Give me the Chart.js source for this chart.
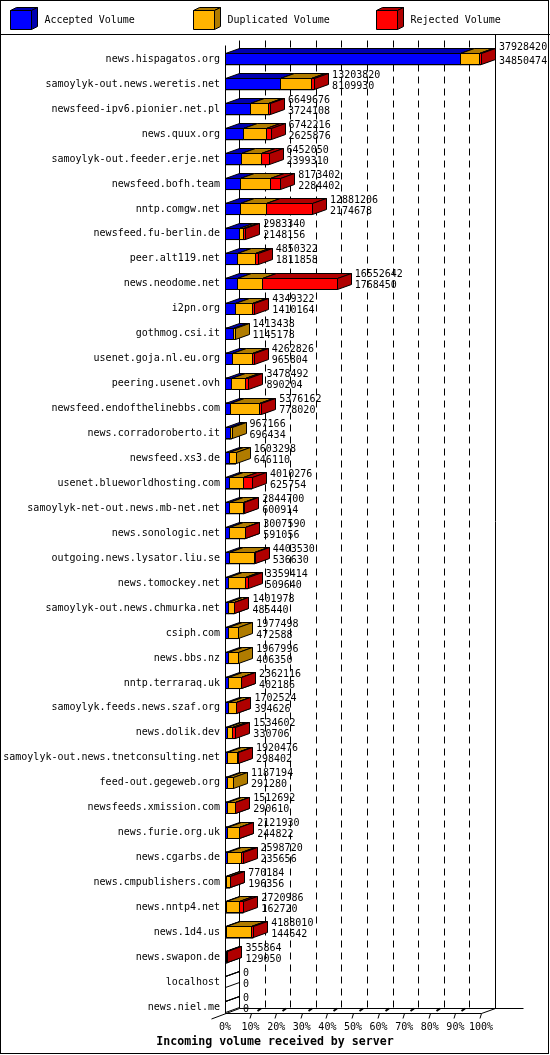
<!DOCTYPE html>
<html>
<head>
<meta charset="utf-8">
<title>Incoming volume received by server</title>
<script src="https://cdn.jsdelivr.net/npm/chart.js@4.4.1/dist/chart.umd.min.js"></script>
<style>
    body { margin: 0; background: #ffffff; }
    canvas { display: block; }
</style>
</head>
<body>
<canvas id="volumeChart" width="550" height="1055"></canvas>
<script>

//Servers
const servers = [
    "news.hispagatos.org",
    "samoylyk-out.news.weretis.net",
    "newsfeed-ipv6.pionier.net.pl",
    "news.quux.org",
    "samoylyk-out.feeder.erje.net",
    "newsfeed.bofh.team",
    "nntp.comgw.net",
    "newsfeed.fu-berlin.de",
    "peer.alt119.net",
    "news.neodome.net",
    "i2pn.org",
    "gothmog.csi.it",
    "usenet.goja.nl.eu.org",
    "peering.usenet.ovh",
    "newsfeed.endofthelinebbs.com",
    "news.corradoroberto.it",
    "newsfeed.xs3.de",
    "usenet.blueworldhosting.com",
    "samoylyk-net-out.news.mb-net.net",
    "news.sonologic.net",
    "outgoing.news.lysator.liu.se",
    "news.tomockey.net",
    "samoylyk-out.news.chmurka.net",
    "csiph.com",
    "news.bbs.nz",
    "nntp.terraraq.uk",
    "samoylyk.feeds.news.szaf.org",
    "news.dolik.dev",
    "samoylyk-out.news.tnetconsulting.net",
    "feed-out.gegeweb.org",
    "newsfeeds.xmission.com",
    "news.furie.org.uk",
    "news.cgarbs.de",
    "news.cmpublishers.com",
    "news.nntp4.net",
    "news.1d4.us",
    "news.swapon.de",
    "localhost",
    "news.niel.me"
];

//Total volume (upper number)
const totalVolume = [
    37928420, 13203820, 6649676, 6742216, 6452050, 8173402, 12881206, 2983340,
    4850322, 16552642, 4349322, 1413438, 4262826, 3478492, 5376162, 967166,
    1603298, 4010276, 2844700, 3007590, 4403530, 3359414, 1401978, 1977498,
    1967996, 2362116, 1702524, 1534602, 1920476, 1187194, 1512692, 2121930,
    2598720, 770184, 2720986, 4188010, 355864, 0, 0
];

//Accepted volume (lower number)
const acceptedVolume = [
    34850474, 8109930, 3724108, 2625876, 2399310, 2284402, 2174678, 2148156,
    1811858, 1768450, 1410164, 1145178, 965804, 890204, 778020, 696434,
    646110, 625754, 600914, 591056, 536630, 509640, 485440, 472588,
    406350, 402186, 394626, 330706, 298402, 291280, 290610, 244822,
    235656, 196356, 162720, 144642, 129050, 0, 0
];

//Duplicated volume
const duplicatedVolume = [
    2718000, 4644000, 2626000, 3466000, 2983000, 4419000, 3947000, 555000,
    2688000, 3764000, 2549000, 268000, 2967000, 2118000, 4248000, 271000,
    957000, 1995000, 2124000, 2317000, 3747000, 2450000, 817000, 1505000,
    1562000, 1900000, 1208000, 754000, 1542000, 896000, 1172000, 1777000,
    2063000, 474000, 1958000, 3713000, 127000, 0, 0
];

//Rejected volume
const rejectedVolume = [
    360000, 450000, 300000, 650000, 1070000, 1470000, 6760000, 280000,
    350000, 11020000, 390000, 0, 330000, 470000, 350000, 0,
    0, 1390000, 120000, 100000, 120000, 400000, 100000, 0,
    0, 60000, 100000, 450000, 80000, 0, 50000, 100000,
    300000, 100000, 600000, 330000, 100000, 0, 0
];

//Axis
const tickPercents = [0, 10, 20, 30, 40, 50, 60, 70, 80, 90, 100];
const tickLabels = ["0%", "10%", "20%", "30%", "40%", "50%", "60%", "70%", "80%", "90%", "100%"];
const seriesLabels = ["Accepted Volume", "Duplicated Volume", "Rejected Volume"];
const chartTitle = "Incoming volume received by server";

const maxTotal = Math.max(...totalVolume);

//Colours: front face and shaded face
const frontColors = ["#0000ff", "#ffb400", "#ff0000"];
const darkColors = ["#0000b0", "#b07c00", "#b00000"];

const depthX = 14;
const depthY = 5;
const monoFont = "'DejaVu Sans Mono', 'Liberation Mono', monospace";

//Drawing helpers
function poly(ctx, pts, fill) {

    ctx.beginPath();
    ctx.moveTo(pts[0][0], pts[0][1]);

    for (let i = 1; i < pts.length; i++) {
        ctx.lineTo(pts[i][0], pts[i][1]);
    }

    ctx.closePath();

    if (fill) {
        ctx.fillStyle = fill;
        ctx.fill();
    }

    ctx.stroke();

}

function line(ctx, x0, y0, x1, y1) {

    ctx.beginPath();
    ctx.moveTo(x0, y0);
    ctx.lineTo(x1, y1);
    ctx.stroke();

}

function drawBox(ctx, x0, x1, yt, yb, dx, dy, front, dark) {

    //front
    poly(ctx, [[x0, yt], [x1, yt], [x1, yb], [x0, yb]], front);

    //top
    poly(ctx, [[x0, yt], [x0 + dx, yt - dy], [x1 + dx, yt - dy], [x1, yt]], dark);

    //side
    poly(ctx, [[x1, yt], [x1 + dx, yt - dy], [x1 + dx, yb - dy], [x1, yb]], dark);

}

//Back walls, grid and floor
const backPlane = {

    id: "backPlane",

    beforeDatasetsDraw(chart) {

        const { ctx, chartArea, scales: { x, y } } = chart;

        const left = Math.round(x.getPixelForValue(0)) + 0.5;
        const right = Math.round(x.getPixelForValue(maxTotal)) + 0.5;
        const header = Math.floor(chartArea.top - 12) + 0.5;
        const backTop = Math.round(chartArea.top - 7) + 0.5;
        const frontTop = backTop + depthY;
        const frontFloor = Math.floor(y.getPixelForValue(servers.length - 1) + 6) + 0.5;
        const backFloor = frontFloor - depthY;

        ctx.save();
        ctx.strokeStyle = "#000000";
        ctx.lineWidth = 1;

        //dashed grid on the back wall
        ctx.setLineDash([7, 5]);

        tickPercents.slice(1, -1).forEach(p => {

            const gx = Math.round(x.getPixelForValue(maxTotal * p / 100)) + depthX + 0.5;
            line(ctx, gx, backTop, gx, backFloor);

        });

        ctx.setLineDash([]);

        //walls
        line(ctx, left, frontTop, left, frontFloor);
        line(ctx, left + depthX, backTop, left + depthX, backFloor);
        line(ctx, right + depthX, header, right + depthX, backFloor);

        //floor
        line(ctx, left, frontFloor, right, frontFloor);
        line(ctx, left + depthX, backFloor, right + depthX + 28, backFloor);
        line(ctx, right, frontFloor, right + depthX, backFloor);
        line(ctx, left - 14, frontFloor + 5.5, left + depthX, backFloor);

        //floor ticks
        tickPercents.slice(1).forEach((p, i) => {

            const fx = Math.round(x.getPixelForValue(maxTotal * p / 100)) + 0.5;

            ctx.lineWidth = 1;
            line(ctx, fx - 1.5, frontFloor + 5, fx, frontFloor);

            if (i < tickPercents.length - 2) {
                ctx.lineWidth = 2;
                line(ctx, fx + 6, backFloor + 2.5, fx + 9.5, backFloor);
            }

        });

        ctx.restore();

    }

};

//3D boxes and value labels
const boxBars = {

    id: "boxBars",

    afterDatasetsDraw(chart) {

        const { ctx, scales: { x } } = chart;

        ctx.save();
        ctx.strokeStyle = "#000000";
        ctx.lineWidth = 1;

        servers.forEach((name, i) => {

            chart.data.datasets.forEach((ds, d) => {

                const el = chart.getDatasetMeta(d).data[i];
                const value = ds.data[i];

                if (!el) return;

                const empty = totalVolume[i] === 0;

                if (value === 0 && !(empty && d === 0)) return;

                const { x: end, base, y: cy } = el.getProps(["x", "base", "y"], true);

                const x0 = Math.round(base) + 0.5;
                const x1 = Math.round(end) + 0.5;
                const yt = Math.round(cy - 6) + 0.5;
                const yb = yt + 11;

                if (empty) {
                    drawBox(ctx, x0, x1, yt, yb, depthX, depthY, null, null);
                } else {
                    drawBox(ctx, x0, x1, yt, yb, depthX, depthY, frontColors[d], darkColors[d]);
                }

            });

            //numbers at the end of the bar
            const el = chart.getDatasetMeta(0).data[i];
            const cy = el.getProps(["y"], true).y;
            const tx = x.getPixelForValue(totalVolume[i]) + 18;
            const lift = i === 0 ? 12 : 9;

            ctx.fillStyle = "#000000";
            ctx.font = "10px " + monoFont;
            ctx.textAlign = "left";
            ctx.textBaseline = "middle";
            ctx.fillText(String(totalVolume[i]), tx, cy - lift);
            ctx.fillText(String(acceptedVolume[i]), tx, cy + 2);

        });

        ctx.restore();

    }

};

//Legend, header rule and frame
const frame = {

    id: "frame",

    afterDraw(chart) {

        const { ctx, chartArea } = chart;
        const header = Math.floor(chartArea.top - 12) + 0.5;

        ctx.save();
        ctx.strokeStyle = "#000000";
        ctx.lineWidth = 1;

        seriesLabels.forEach((label, k) => {

            const fx = 10.5 + 183 * k;

            drawBox(ctx, fx, fx + 21, 10.5, 29.5, 6, 3, frontColors[k], darkColors[k]);

            ctx.fillStyle = "#000000";
            ctx.font = "10px " + monoFont;
            ctx.textAlign = "left";
            ctx.textBaseline = "middle";
            ctx.fillText(label, fx + 34, 20);

        });

        line(ctx, 0, header, chart.width, header);
        ctx.strokeRect(0.5, 0.5, chart.width - 2, chart.height - 2);

        ctx.restore();

    }

};

//Chart
new Chart(document.querySelector("#volumeChart"), {

    type: "bar",

    data: {

        labels: servers,

        datasets: [

            {
                label: seriesLabels[0],
                data: acceptedVolume,
                backgroundColor: frontColors[0],
                borderColor: "#000000",
                borderWidth: 1,
                borderSkipped: false,
                barThickness: 12
            },

            {
                label: seriesLabels[1],
                data: duplicatedVolume,
                backgroundColor: frontColors[1],
                borderColor: "#000000",
                borderWidth: 1,
                borderSkipped: false,
                barThickness: 12
            },

            {
                label: seriesLabels[2],
                data: rejectedVolume,
                backgroundColor: frontColors[2],
                borderColor: "#000000",
                borderWidth: 1,
                borderSkipped: false,
                barThickness: 12
            }

        ]

    },

    options: {

        indexAxis: "y",

        responsive: false,

        animation: false,

        layout: {

            padding: { top: 46.8, right: 0, bottom: 0, left: 0 }

        },

        plugins: {

            legend: { display: false },

            tooltip: { enabled: false },

            title: {

                display: true,

                position: "bottom",

                text: chartTitle,

                color: "#000000",

                padding: { top: 0.5, bottom: 6.3 },

                font: {

                    family: monoFont,
                    size: 11.6,
                    weight: "bold"

                }

            }

        },

        scales: {

            x: {

                stacked: true,

                min: 0,

                max: maxTotal,

                grid: { display: false, drawTicks: false },

                border: { display: false },

                afterBuildTicks: (scale) => {

                    scale.ticks = tickPercents.map(p => ({ value: maxTotal * p / 100 }));

                },

                ticks: {

                    padding: 1.3,

                    color: "#000000",

                    maxRotation: 0,

                    autoSkip: false,

                    font: { family: monoFont, size: 10 },

                    callback: (value, index) => tickLabels[index]

                }

            },

            y: {

                stacked: true,

                grid: { display: false, drawTicks: false },

                border: { display: false },

                afterFit: (scale) => {

                    scale.width = 225;

                },

                ticks: {

                    padding: 5,

                    color: "#000000",

                    autoSkip: false,

                    font: { family: monoFont, size: 10 }

                }

            },

            //empty strip on the right for the value labels
            yRight: {

                type: "category",

                position: "right",

                grid: { display: false, drawTicks: false },

                border: { display: false },

                ticks: { display: false },

                afterFit: (scale) => {

                    scale.width = 69;

                }

            }

        }

    },

    plugins: [backPlane, boxBars, frame]

});

</script>
</body>
</html>
